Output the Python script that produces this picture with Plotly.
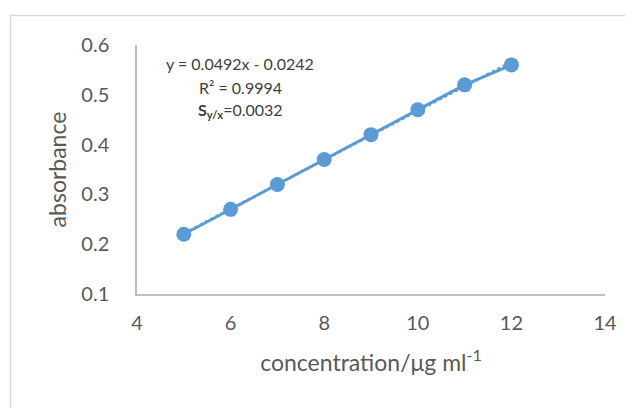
import plotly.graph_objects as go

concentration = [5, 6, 7, 8, 9, 10, 11, 12]
absorbance = [0.22, 0.27, 0.32, 0.37, 0.42, 0.47, 0.52, 0.56]
slope = 0.0492
intercept = -0.0242
x_ticks = [4, 6, 8, 10, 12, 14]
y_ticks = [0.1, 0.2, 0.3, 0.4, 0.5, 0.6]

trend_x = [min(concentration), max(concentration)]
trend_y = [slope * v + intercept for v in trend_x]

blue = "#5B9BD5"
font = "Lato, 'Open Sans', sans-serif"

fig = go.Figure()
fig.add_trace(go.Scatter(x=trend_x, y=trend_y, mode="lines",
                         line=dict(color=blue, width=2.5, dash="dot"),
                         showlegend=False, hoverinfo="skip"))
fig.add_trace(go.Scatter(x=concentration, y=absorbance, mode="lines+markers",
                         line=dict(color=blue, width=3),
                         marker=dict(color=blue, size=15),
                         showlegend=False))

OFF = 8  # page body margin offset
W, H = 633, 408
L, R, T, B = 137 - OFF, 28 + OFF, 45 - OFF, 114 + OFF
pw, ph = W - L - R, H - T - B

def px(x):
    return (x - OFF - L) / pw

def py(y):
    return (H - B - (y - OFF)) / ph

ann_font = dict(family=font, size=16, color="#404040")
fig.add_annotation(x=px(240), y=py(63), xref="paper", yref="paper", xanchor="center",
                   yanchor="middle", text="y = 0.0492x - 0.0242", showarrow=False, font=ann_font)
fig.add_annotation(x=px(240), y=py(87), xref="paper", yref="paper", xanchor="center",
                   yanchor="middle", text="R² = 0.9994", showarrow=False, font=ann_font)
fig.add_annotation(x=px(240), y=py(110), xref="paper", yref="paper", xanchor="center",
                   yanchor="middle", text="<b>S</b><sub><b>y/x</b></sub>=0.0032", showarrow=False, font=ann_font)

# outer border
fig.add_shape(type="rect", xref="paper", yref="paper",
              x0=px(10.5), x1=px(700), y0=py(15.5), y1=py(500),
              line=dict(color="#D9D9D9", width=1.5), layer="below")

fig.update_layout(
    width=W, height=H,
    margin=dict(l=L, r=R, t=T, b=B),
    paper_bgcolor="white", plot_bgcolor="white",
    font=dict(family=font, color="#595959"),
    xaxis=dict(range=[4, 14], tickvals=x_ticks, showgrid=False, zeroline=False,
               showline=True, linecolor="#BFBFBF", linewidth=1.5,
               tickfont=dict(size=20, color="#595959"), ticks="", ticklabelstandoff=10,
               title=dict(text="concentration/μg ml<sup>-1</sup>", font=dict(size=23, color="#595959"), standoff=22)),
    yaxis=dict(range=[0.1, 0.6], tickvals=y_ticks, tickformat=".1f", showgrid=False, zeroline=False,
               showline=True, linecolor="#BFBFBF", linewidth=1.5,
               tickfont=dict(size=20, color="#595959"), ticks="", ticklabelstandoff=22,
               title=dict(text="absorbance", font=dict(size=23, color="#595959"), standoff=8)),
)

fig.write_html("out.html")
